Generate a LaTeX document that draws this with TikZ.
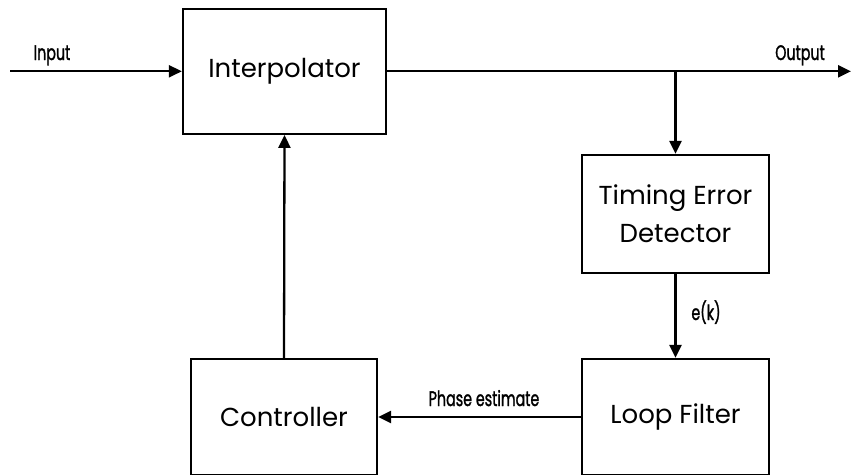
\documentclass[tikz,border=0pt]{standalone}
\usepackage{fontspec}
\setmainfont{Poppins}
\newfontfamily\labfont[FakeBold=1.6]{Poppins}
\usetikzlibrary{arrows.meta}
\newcommand\cond[1]{\scalebox{0.68}[1]{#1}}
\begin{document}
\begin{tikzpicture}[x=1pt,y=-1pt,
  box/.style={draw, line width=2.3pt, rectangle, inner sep=0pt, align=center,
    font=\fontsize{26}{38}\selectfont},
  conn/.style={line width=2.3pt, -{Triangle[length=13pt,width=12pt]}},
  lab/.style={font=\labfont\fontsize{21}{21}\selectfont, inner sep=0pt, anchor=base}]
\useasboundingbox (0,0) rectangle (851,474);
\clip (0,0) rectangle (851,474);
\node[box, minimum width=203pt, minimum height=125pt] (interp) at (284.5,71.3) {Interpolator};
\node[box, minimum width=187pt, minimum height=118pt] (ted) at (675.5,214) {Timing Error\\Detector};
\node[box, minimum width=187pt, minimum height=116pt] (lf) at (675.5,417) {Loop Filter};
\node[box, minimum width=186pt, minimum height=116pt] (ctrl) at (284,417) {Controller};
\coordinate (in) at (10,71.3);
\coordinate (out) at (851,71.3);
\coordinate (br) at (675.5,71.3);
\draw[conn] (in) -- (interp.west);
\draw[conn] (interp.east) -- (out);
\draw[conn] (br) -- (ted.north);
\draw[conn] (ted.south) -- (lf.north);
\draw[conn] (lf.west) -- (ctrl.east);
\draw[conn] (ctrl.north) -- (interp.south);
\node[lab] (lin) at (52,60) {\cond{Input}};
\node[lab] (lout) at (800,60) {\cond{Output}};
\node[lab] (lek) at (706,320) {\cond{e(k)}};
\node[lab] (lph) at (484,406) {\cond{Phase estimate}};
\end{tikzpicture}
\end{document}
